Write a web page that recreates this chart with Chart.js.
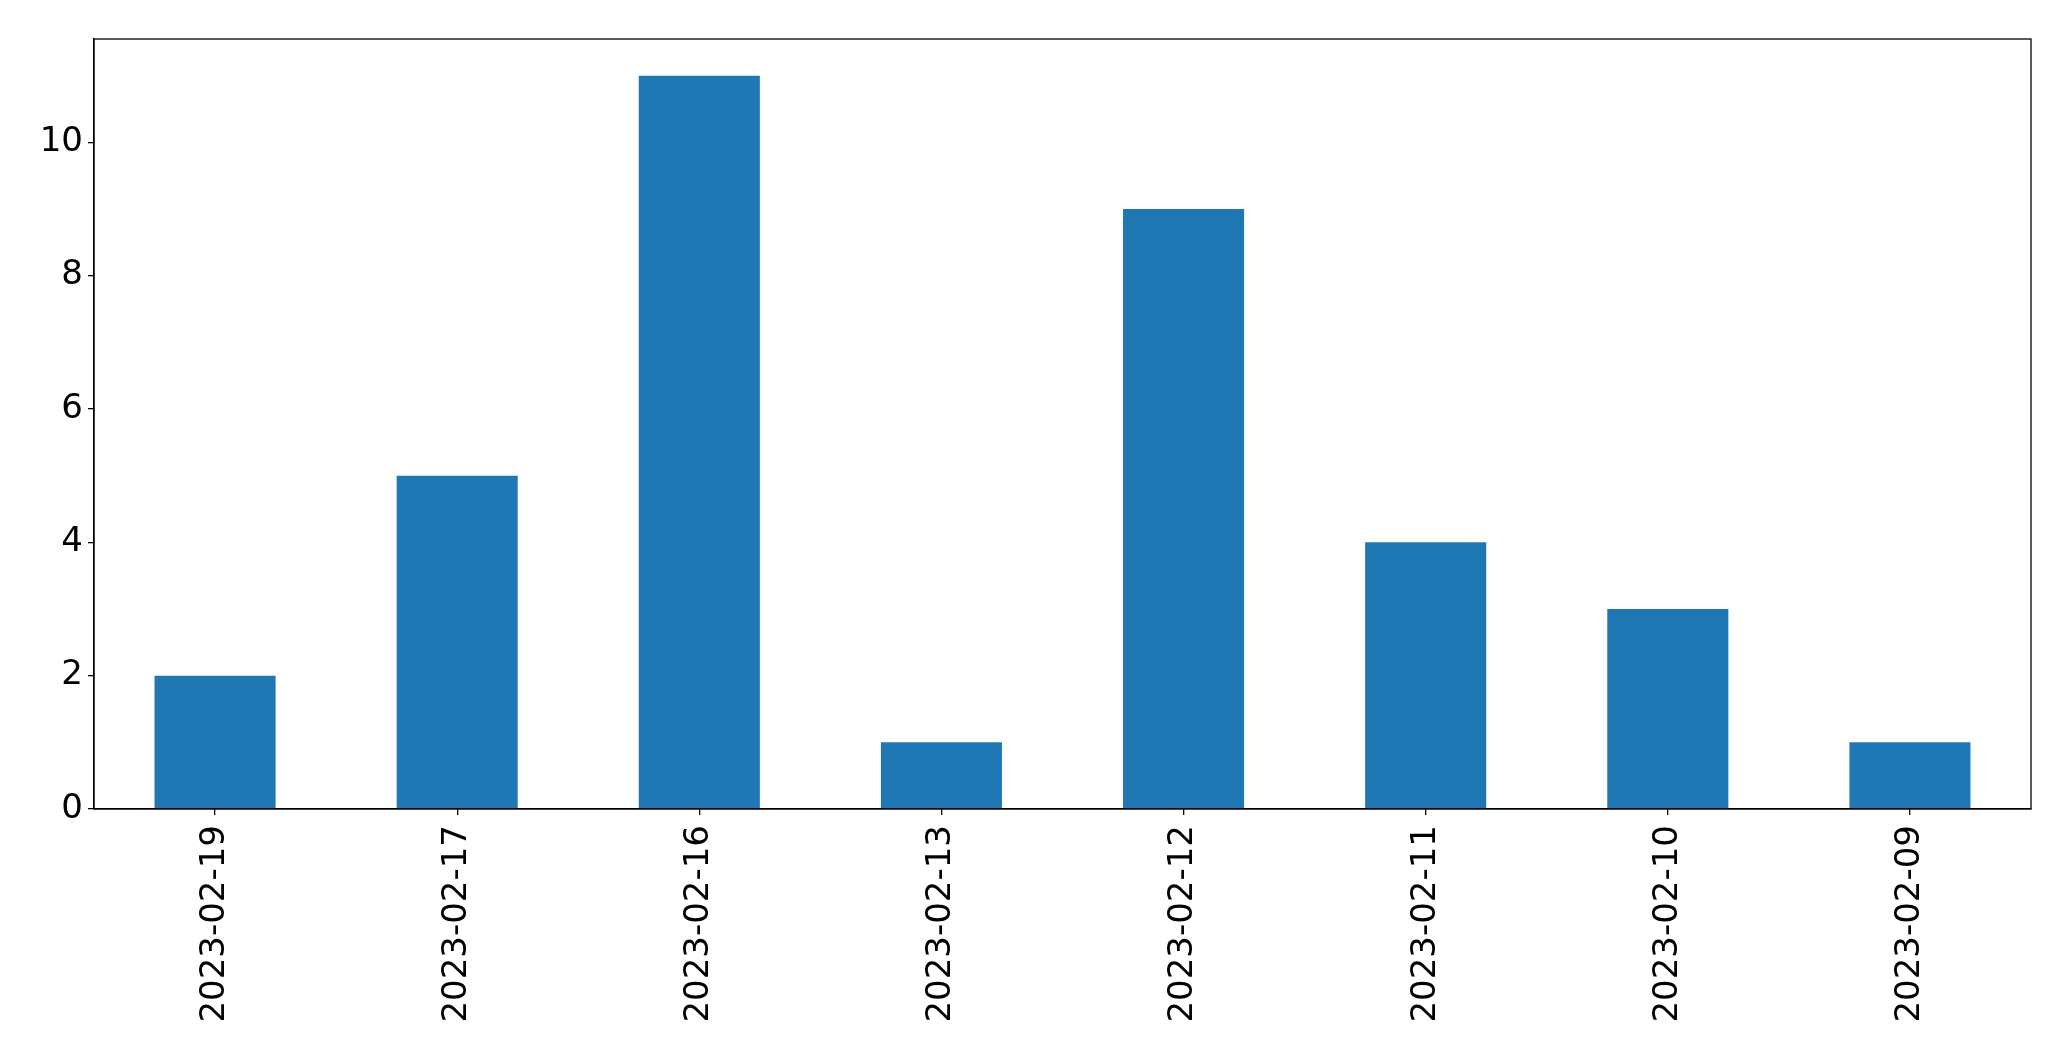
<!DOCTYPE html>
<html>
<head>
<meta charset="utf-8">
<script src="https://cdn.jsdelivr.net/npm/chart.js@4"></script>
<style>
  body { margin: 0; background: #fff; }
  canvas { display: block; }
</style>
</head>
<body>
<canvas id="chart" width="2071" height="1061"></canvas>
<script>
const dates = ['2023-02-19', '2023-02-17', '2023-02-16', '2023-02-13', '2023-02-12', '2023-02-11', '2023-02-10', '2023-02-09'];
const counts = [2, 5, 11, 1, 9, 4, 3, 1];
const yTicks = [0, 2, 4, 6, 8, 10];
const yMax = 11.55;

const frame = {
  id: 'frame',
  afterDraw: (chart) => {
    const { ctx, chartArea } = chart;
    ctx.save();
    ctx.strokeStyle = '#000';
    ctx.lineWidth = 1.3;
    ctx.strokeRect(chartArea.left, chartArea.top, chartArea.right - chartArea.left, chartArea.bottom - chartArea.top);
    ctx.restore();
  }
};

const font = { family: 'DejaVu Sans', size: 34 };

new Chart(document.getElementById('chart').getContext('2d'), {
  type: 'bar',
  data: {
    labels: dates,
    datasets: [{
      data: counts,
      backgroundColor: '#1f77b4',
      borderWidth: 0,
      barPercentage: 0.5,
      categoryPercentage: 1
    }]
  },
  options: {
    responsive: false,
    devicePixelRatio: 1,
    animation: false,
    layout: { padding: { top: 39, right: 40, left: 0, bottom: 0 } },
    plugins: { legend: { display: false }, tooltip: { enabled: false } },
    scales: {
      x: {
        grid: { display: true, offset: false, drawOnChartArea: false, drawTicks: true, tickLength: 6, color: '#000', lineWidth: 1.3 },
        border: { display: true, color: '#000', width: 1.3 },
        ticks: { color: '#000', font, minRotation: 90, maxRotation: 90, padding: 10, autoSkip: false },
        afterFit: (scale) => { scale.height = 252; }
      },
      y: {
        min: 0,
        max: yMax,
        grid: { display: true, drawOnChartArea: false, drawTicks: true, tickLength: 6, color: '#000', lineWidth: 1.3 },
        border: { display: true, color: '#000', width: 1.3 },
        ticks: { color: '#000', font, padding: 5 },
        afterBuildTicks: (scale) => { scale.ticks = yTicks.map(v => ({ value: v })); },
        afterFit: (scale) => { scale.width = 94; }
      }
    }
  },
  plugins: [frame]
});
</script>
</body>
</html>
